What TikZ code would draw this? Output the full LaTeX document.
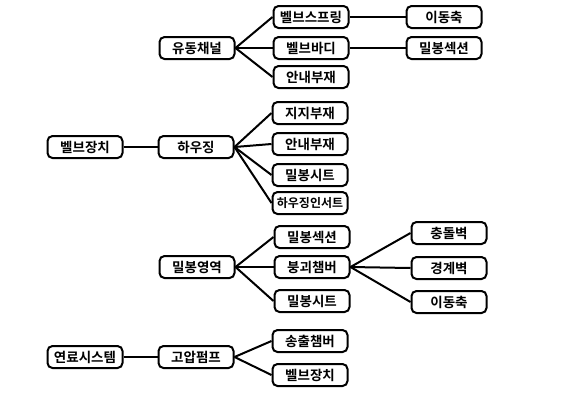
\documentclass[tikz,border=0pt]{standalone}
\usepackage{fontspec}
\setmainfont{Noto Sans CJK KR}[BoldFont={Noto Sans CJK KR Bold}]
\newfontfamily\kbold{Noto Sans CJK KR Bold}
\begin{document}
\begin{tikzpicture}[x=1pt,y=-1pt,
  box/.style={draw=black,line width=2pt,rounded corners=5pt,minimum width=75pt,minimum height=22pt,inner sep=0.5pt,font=\kbold\fontsize{13.5}{15}\selectfont,fill=white},
  conn/.style={line width=2pt}]
\useasboundingbox (0,0) rectangle (580,408);
% group 1
\node[box] (yd) at (197,48) {유동채널};
\node[box] (bs) at (311,17) {벨브스프링};
\node[box] (bb) at (311,48) {벨브바디};
\node[box] (an1) at (311,77) {안내부재};
\node[box] (id1) at (444,17) {이동축};
\node[box] (ms1) at (444,48) {밀봉섹션};
% group 2
\node[box] (bj) at (85,147) {벨브장치};
\node[box] (hj) at (196,147) {하우징};
\node[box] (jj) at (310,113) {지지부재};
\node[box] (an2) at (310,144) {안내부재};
\node[box] (mst1) at (310,175) {밀봉시트};
\node[box,font=\kbold\fontsize{12}{14}\selectfont] (hji) at (310,203) {하우징인서트};
% group 3
\node[box] (my) at (197,267) {밀봉영역};
\node[box] (ms2) at (312,237) {밀봉섹션};
\node[box] (bg) at (312,267) {붕괴챔버};
\node[box] (mst2) at (312,301) {밀봉시트};
\node[box] (cd) at (449,233) {충돌벽};
\node[box] (gg) at (449,268) {경계벽};
\node[box] (id2) at (449,302) {이동축};
% group 4
\node[box] (ys) at (85,357) {연료시스템};
\node[box] (gp) at (196,357) {고압펌프};
\node[box] (sc) at (310,341) {송출챔버};
\node[box] (bj2) at (310,375) {벨브장치};
% connectors
\draw[conn] (yd.east) -- (bs.west);
\draw[conn] (yd.east) -- (bb.west);
\draw[conn] (yd.east) -- (an1.west);
\draw[conn] (bs.east) -- (id1.west);
\draw[conn] (bb.east) -- (ms1.west);
\draw[conn] (bj.east) -- (hj.west);
\draw[conn] (hj.east) -- (jj.west);
\draw[conn] (hj.east) -- (an2.west);
\draw[conn] (hj.east) -- (mst1.west);
\draw[conn] (hj.east) -- (hji.west);
\draw[conn] (my.east) -- (ms2.west);
\draw[conn] (my.east) -- (bg.west);
\draw[conn] (my.east) -- (mst2.west);
\draw[conn] (bg.east) -- (cd.west);
\draw[conn] (bg.east) -- (gg.west);
\draw[conn] (bg.east) -- (id2.west);
\draw[conn] (ys.east) -- (gp.west);
\draw[conn] (gp.east) -- (sc.west);
\draw[conn] (gp.east) -- (bj2.west);
\end{tikzpicture}
\end{document}
